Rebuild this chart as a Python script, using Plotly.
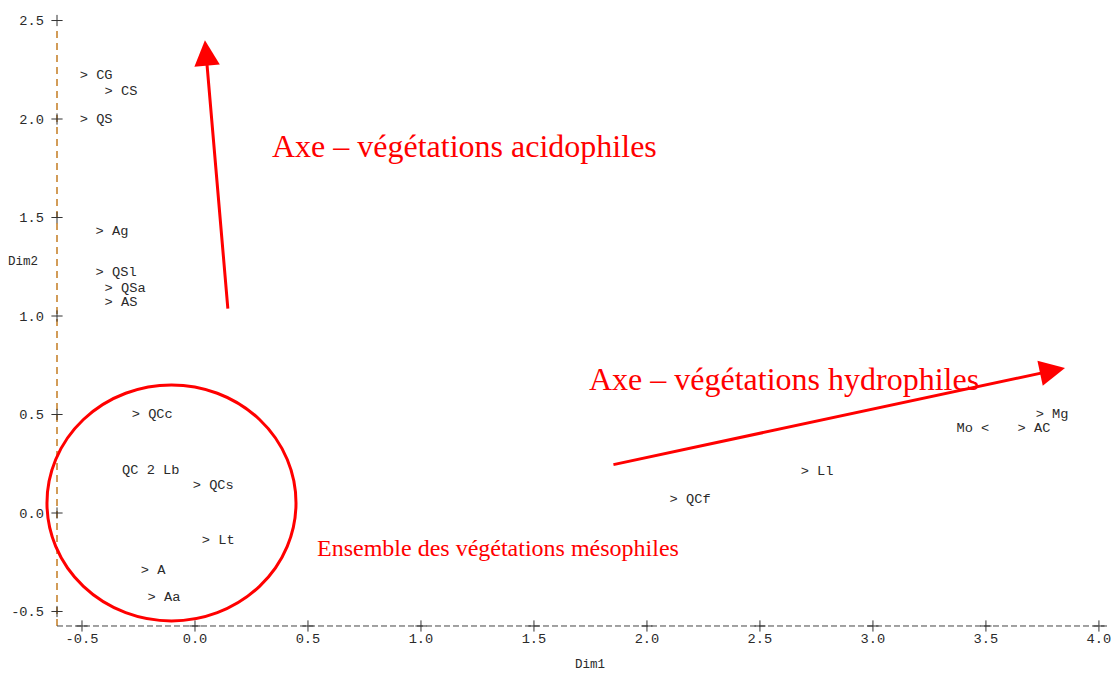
import plotly.graph_objects as go

# Point labels (SAS-style plot): position of the label anchor and label text
right_labels = ["> CG", "> CS", "> QS", "> Ag", "> QSl", "> QSa", "> AS",
                "> QCc", "QC 2 Lb", "> QCs", "> Lt", "> A", "> Aa",
                "> QCf", "> Ll", "> Mg", "> AC"]
right_x = [-0.51, -0.40, -0.51, -0.44, -0.44, -0.40, -0.40,
           -0.28, -0.323, -0.01, 0.03, -0.24, -0.21,
           2.10, 2.68, 3.72, 3.64]
right_y = [2.22, 2.14, 1.995, 1.43, 1.22, 1.14, 1.07,
           0.50, 0.213, 0.14, -0.14, -0.29, -0.43,
           0.07, 0.21, 0.50, 0.43]
left_labels = ["Mo <"]
left_x = [3.515]
left_y = [0.43]

x_ticks = [-0.5, 0.0, 0.5, 1.0, 1.5, 2.0, 2.5, 3.0, 3.5, 4.0]
y_ticks = [-0.5, 0.0, 0.5, 1.0, 1.5, 2.0, 2.5]

X_RANGE = [-0.6637, 4.049]
Y_RANGE = [-0.5838, 2.528]
X_AXIS_POS = -0.6106   # where vertical axis line sits
Y_AXIS_POS = -0.5736   # where horizontal axis line sits

MONO = "Liberation Mono, Courier New, monospace"
SERIF = "Liberation Serif, Times New Roman, serif"
TXT = "#2a2a2a"
RED = "#ff0000"

fig = go.Figure()

fig.add_trace(go.Scatter(
    x=right_x, y=right_y, text=right_labels, mode="text",
    textposition="middle right", cliponaxis=False,
    textfont=dict(family=MONO, size=13.7, color=TXT), showlegend=False,
    hoverinfo="skip"))
fig.add_trace(go.Scatter(
    x=left_x, y=left_y, text=left_labels, mode="text",
    textposition="middle left", cliponaxis=False,
    textfont=dict(family=MONO, size=13.7, color=TXT), showlegend=False,
    hoverinfo="skip"))

# "+" tick marks on the dashed axis lines
fig.add_trace(go.Scatter(
    x=x_ticks, y=[Y_AXIS_POS] * len(x_ticks), mode="markers",
    marker=dict(symbol="cross-thin", size=8, line=dict(width=1, color="#333")),
    cliponaxis=False, showlegend=False, hoverinfo="skip"))
fig.add_trace(go.Scatter(
    x=[X_AXIS_POS] * len(y_ticks), y=y_ticks, mode="markers",
    marker=dict(symbol="cross-thin", size=8, line=dict(width=1, color="#333")),
    cliponaxis=False, showlegend=False, hoverinfo="skip"))

# dashed axis lines
fig.add_shape(type="line", x0=X_AXIS_POS, x1=X_AXIS_POS, y0=Y_AXIS_POS, y1=2.47,
              line=dict(color="#c47c22", width=1.5, dash="7px,5px"), layer="below")
fig.add_shape(type="line", x0=X_AXIS_POS, x1=4.045, y0=Y_AXIS_POS, y1=Y_AXIS_POS,
              line=dict(color="#444", width=1, dash="6px,3px"), layer="below")

# red circle
fig.add_shape(type="circle", x0=-0.655, x1=0.447, y0=-0.548, y1=0.650,
              line=dict(color=RED, width=3))

# arrows
fig.add_annotation(x=0.044, y=2.40, ax=0.146, ay=1.03, xref="x", yref="y",
                   axref="x", ayref="y", text="", showarrow=True,
                   arrowhead=2, arrowsize=1.7, arrowwidth=3, arrowcolor=RED)
fig.add_annotation(x=3.85, y=0.736, ax=1.845, ay=0.244, xref="x", yref="y",
                   axref="x", ayref="y", text="", showarrow=True,
                   arrowhead=2, arrowsize=1.7, arrowwidth=3, arrowcolor=RED)

# red texts
fig.add_annotation(x=0.332, y=1.863, text="Axe – végétations acidophiles",
                   showarrow=False, xanchor="left", yanchor="middle",
                   font=dict(family=SERIF, size=32, color=RED))
fig.add_annotation(x=1.735, y=0.680, text="Axe – végétations hydrophiles",
                   showarrow=False, xanchor="left", yanchor="middle",
                   font=dict(family=SERIF, size=32, color=RED))
fig.add_annotation(x=0.531, y=-0.178, text="Ensemble des végétations mésophiles",
                   showarrow=False, xanchor="left", yanchor="middle",
                   font=dict(family=SERIF, size=24, color=RED))

# axis titles
fig.add_annotation(x=1.748, y=-0.0604, xref="x", yref="paper", text="Dim1",
                   xanchor="center", yanchor="middle",
                   showarrow=False, font=dict(family=MONO, size=12.5, color=TXT))
fig.add_annotation(x=-0.0207, y=1.274, xref="paper", yref="y", text="Dim2",
                   xanchor="center", yanchor="middle",
                   showarrow=False, font=dict(family=MONO, size=12.5, color=TXT))

fig.update_xaxes(range=X_RANGE, tickvals=x_ticks, automargin=False,
                 ticktext=[f"{v:.1f}" for v in x_ticks],
                 showgrid=False, zeroline=False, showline=False, ticks="",
                 tickfont=dict(family=MONO, size=13.7, color=TXT))
fig.update_yaxes(range=Y_RANGE, tickvals=y_ticks, automargin=False,
                 ticktext=[f"{v:.1f}" for v in y_ticks],
                 showgrid=False, zeroline=False, showline=False, ticks="",
                 tickfont=dict(family=MONO, size=13.7, color=TXT))

fig.update_layout(width=1112, height=673, plot_bgcolor="white",
                  paper_bgcolor="white",
                  margin=dict(l=45, r=2, t=15, b=45), showlegend=False)

# remove the page's default 8px body margin so the figure fills the window
fig.write_html("out.html", config={"displayModeBar": False},
               post_script="document.body.style.margin='0';")
